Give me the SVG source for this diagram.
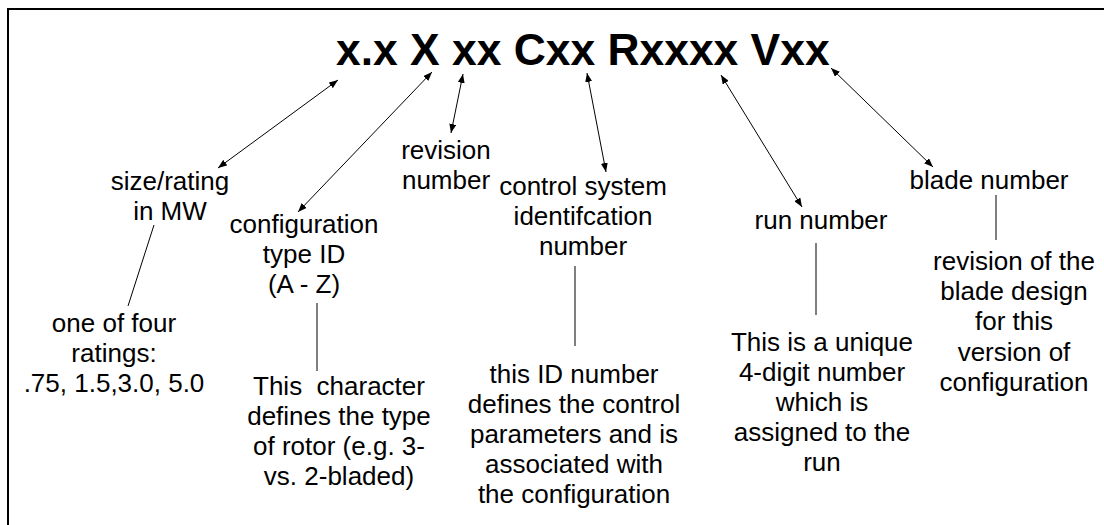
<svg xmlns="http://www.w3.org/2000/svg" width="1104" height="525" viewBox="0 0 1104 525">
  <style>
    .t { font-family: "Liberation Sans", Arial, Helvetica, sans-serif; font-size: 26px; fill: #000; text-anchor: middle; }
    .title { font-family: "Liberation Sans", Arial, Helvetica, sans-serif; font-size: 44.4px; font-weight: bold; fill: #000; }
    .arrow { stroke: #000; stroke-width: 1; fill: none; marker-start: url(#head); marker-end: url(#head); }
    .lead { stroke: #000; stroke-width: 1; fill: none; }
  </style>
  <defs>
    <marker id="head" viewBox="0 0 9 7" refX="9" refY="3.5" markerWidth="9" markerHeight="7" markerUnits="userSpaceOnUse" orient="auto-start-reverse">
      <path d="M0,0 L9,3.5 L0,7 Z" fill="#000"/>
    </marker>
  </defs>

  <rect width="1104" height="525" fill="#fff"/>
  <!-- frame: open on the right and bottom edges -->
  <path d="M8,525 V9 H1104" fill="none" stroke="#000" stroke-width="2"/>

  <g id="code">
    <text class="title" x="336" y="65">x.x X xx Cxx Rxxxx Vxx</text>
  </g>

  <g id="connectors">
    <line class="arrow" x1="338" y1="80" x2="218" y2="168"/>
    <line class="arrow" x1="432" y1="72" x2="298" y2="212"/>
    <line class="arrow" x1="463" y1="74" x2="451" y2="133"/>
    <line class="arrow" x1="587" y1="73" x2="606" y2="172"/>
    <line class="arrow" x1="721" y1="75" x2="802" y2="207"/>
    <line class="arrow" x1="831" y1="68" x2="933" y2="167"/>
    <line class="lead" x1="154" y1="225" x2="128" y2="306"/>
    <line class="lead" x1="317" y1="303" x2="317" y2="371"/>
    <line class="lead" x1="575" y1="266" x2="575" y2="346"/>
    <line class="lead" x1="816" y1="243" x2="816" y2="315"/>
    <line class="lead" x1="996" y1="195" x2="996" y2="240"/>
  </g>

  <g id="size-rating">
    <text class="t" x="170" y="190">size/rating</text>
    <text class="t" x="170" y="220">in MW</text>
  </g>
  <g id="size-rating-note">
    <text class="t" x="114" y="332">one of four</text>
    <text class="t" x="114" y="362">ratings:</text>
    <text class="t" x="114" y="392">.75, 1.5,3.0, 5.0</text>
  </g>

  <g id="configuration">
    <text class="t" x="304" y="233">configuration</text>
    <text class="t" x="304" y="263">type ID</text>
    <text class="t" x="304" y="293">(A - Z)</text>
  </g>
  <g id="configuration-note">
    <text class="t" x="339" y="395" xml:space="preserve" style="white-space:pre">This  character</text>
    <text class="t" x="339" y="425">defines the type</text>
    <text class="t" x="339" y="455">of rotor (e.g. 3-</text>
    <text class="t" x="339" y="485">vs. 2-bladed)</text>
  </g>

  <g id="revision">
    <text class="t" x="446" y="159">revision</text>
    <text class="t" x="446" y="189">number</text>
  </g>

  <g id="control-system">
    <text class="t" x="583" y="195">control system</text>
    <text class="t" x="583" y="225">identifcation</text>
    <text class="t" x="583" y="255">number</text>
  </g>
  <g id="control-system-note">
    <text class="t" x="574" y="383">this ID number</text>
    <text class="t" x="574" y="413">defines the control</text>
    <text class="t" x="574" y="443">parameters and is</text>
    <text class="t" x="574" y="473">associated with</text>
    <text class="t" x="574" y="503">the configuration</text>
  </g>

  <g id="run">
    <text class="t" x="821" y="229">run number</text>
  </g>
  <g id="run-note">
    <text class="t" x="822" y="351">This is a unique</text>
    <text class="t" x="822" y="381">4-digit number</text>
    <text class="t" x="822" y="411">which is</text>
    <text class="t" x="822" y="441">assigned to the</text>
    <text class="t" x="822" y="471">run</text>
  </g>

  <g id="blade">
    <text class="t" x="989" y="189">blade number</text>
  </g>
  <g id="blade-note">
    <text class="t" x="1014" y="270">revision of the</text>
    <text class="t" x="1014" y="300">blade design</text>
    <text class="t" x="1014" y="330">for this</text>
    <text class="t" x="1014" y="361">version of</text>
    <text class="t" x="1014" y="391">configuration</text>
  </g>
</svg>
